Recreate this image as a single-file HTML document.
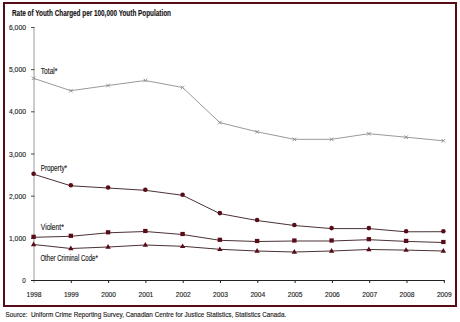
<!DOCTYPE html>
<html><head><meta charset="utf-8"><style>
html,body{margin:0;padding:0;background:#fff;width:460px;height:322px;overflow:hidden}
svg{display:block}
text{font-family:"Liberation Sans",sans-serif;fill:#1a1a1a;stroke:#1a1a1a;stroke-width:0.14px}
.ax{font-size:8px}
.lb{font-size:8.4px}
.tt{font-size:8.6px;font-weight:bold;fill:#111}
.src{font-size:7px}
</style></head><body>
<svg width="460" height="322" viewBox="0 0 460 322">
<line x1="34" y1="27.5" x2="34" y2="283" stroke="#9a9a9a" stroke-width="1"/>
<line x1="31" y1="280.50" x2="34.5" y2="280.50" stroke="#4a4a4a" stroke-width="1"/>
<line x1="31" y1="238.33" x2="34.5" y2="238.33" stroke="#4a4a4a" stroke-width="1"/>
<line x1="31" y1="196.16" x2="34.5" y2="196.16" stroke="#4a4a4a" stroke-width="1"/>
<line x1="31" y1="153.99" x2="34.5" y2="153.99" stroke="#4a4a4a" stroke-width="1"/>
<line x1="31" y1="111.82" x2="34.5" y2="111.82" stroke="#4a4a4a" stroke-width="1"/>
<line x1="31" y1="69.65" x2="34.5" y2="69.65" stroke="#4a4a4a" stroke-width="1"/>
<line x1="31" y1="27.48" x2="34.5" y2="27.48" stroke="#4a4a4a" stroke-width="1"/>
<text transform="translate(25.9 283.10) scale(0.8 1)" text-anchor="end" class="ax">0</text>
<text x="26.0" y="240.93" text-anchor="end" class="ax" textLength="17.1" lengthAdjust="spacingAndGlyphs">1,000</text>
<text x="26.0" y="198.76" text-anchor="end" class="ax" textLength="17.1" lengthAdjust="spacingAndGlyphs">2,000</text>
<text x="26.0" y="156.59" text-anchor="end" class="ax" textLength="17.1" lengthAdjust="spacingAndGlyphs">3,000</text>
<text x="26.0" y="114.42" text-anchor="end" class="ax" textLength="17.1" lengthAdjust="spacingAndGlyphs">4,000</text>
<text x="26.0" y="72.25" text-anchor="end" class="ax" textLength="17.1" lengthAdjust="spacingAndGlyphs">5,000</text>
<text x="26.0" y="30.08" text-anchor="end" class="ax" textLength="17.1" lengthAdjust="spacingAndGlyphs">6,000</text>
<line x1="31" y1="280.5" x2="444.5" y2="280.5" stroke="#222" stroke-width="1"/>
<text x="26.60" y="297.2" class="ax" textLength="14.8" lengthAdjust="spacingAndGlyphs">1998</text>
<line x1="71.3" y1="280" x2="71.3" y2="283" stroke="#222" stroke-width="1"/>
<text x="63.90" y="297.2" class="ax" textLength="14.8" lengthAdjust="spacingAndGlyphs">1999</text>
<line x1="108.6" y1="280" x2="108.6" y2="283" stroke="#222" stroke-width="1"/>
<text x="101.20" y="297.2" class="ax" textLength="14.8" lengthAdjust="spacingAndGlyphs">2000</text>
<line x1="145.9" y1="280" x2="145.9" y2="283" stroke="#222" stroke-width="1"/>
<text x="138.50" y="297.2" class="ax" textLength="14.8" lengthAdjust="spacingAndGlyphs">2001</text>
<line x1="183.2" y1="280" x2="183.2" y2="283" stroke="#222" stroke-width="1"/>
<text x="175.80" y="297.2" class="ax" textLength="14.8" lengthAdjust="spacingAndGlyphs">2002</text>
<line x1="220.5" y1="280" x2="220.5" y2="283" stroke="#222" stroke-width="1"/>
<text x="213.10" y="297.2" class="ax" textLength="14.8" lengthAdjust="spacingAndGlyphs">2003</text>
<line x1="257.8" y1="280" x2="257.8" y2="283" stroke="#222" stroke-width="1"/>
<text x="250.40" y="297.2" class="ax" textLength="14.8" lengthAdjust="spacingAndGlyphs">2004</text>
<line x1="295.1" y1="280" x2="295.1" y2="283" stroke="#222" stroke-width="1"/>
<text x="287.70" y="297.2" class="ax" textLength="14.8" lengthAdjust="spacingAndGlyphs">2005</text>
<line x1="332.4" y1="280" x2="332.4" y2="283" stroke="#222" stroke-width="1"/>
<text x="325.00" y="297.2" class="ax" textLength="14.8" lengthAdjust="spacingAndGlyphs">2006</text>
<line x1="369.7" y1="280" x2="369.7" y2="283" stroke="#222" stroke-width="1"/>
<text x="362.30" y="297.2" class="ax" textLength="14.8" lengthAdjust="spacingAndGlyphs">2007</text>
<line x1="407.0" y1="280" x2="407.0" y2="283" stroke="#222" stroke-width="1"/>
<text x="399.60" y="297.2" class="ax" textLength="14.8" lengthAdjust="spacingAndGlyphs">2008</text>
<line x1="444.3" y1="280" x2="444.3" y2="283" stroke="#222" stroke-width="1"/>
<text x="436.90" y="297.2" class="ax" textLength="14.8" lengthAdjust="spacingAndGlyphs">2009</text>
<path d="M33.60 78.30 L70.85 90.70 L108.10 85.50 L145.35 80.50 L182.60 87.50 L219.85 122.60 L257.10 131.80 L294.35 139.30 L331.60 139.30 L368.85 133.70 L406.10 137.20 L443.35 140.80" fill="none" stroke="#9a9a9a" stroke-width="1"/>
<path d="M31.80 76.50 L35.40 80.10 M31.80 80.10 L35.40 76.50" stroke="#8a8a8a" stroke-width="0.9"/>
<path d="M69.05 88.90 L72.65 92.50 M69.05 92.50 L72.65 88.90" stroke="#8a8a8a" stroke-width="0.9"/>
<path d="M106.30 83.70 L109.90 87.30 M106.30 87.30 L109.90 83.70" stroke="#8a8a8a" stroke-width="0.9"/>
<path d="M143.55 78.70 L147.15 82.30 M143.55 82.30 L147.15 78.70" stroke="#8a8a8a" stroke-width="0.9"/>
<path d="M180.80 85.70 L184.40 89.30 M180.80 89.30 L184.40 85.70" stroke="#8a8a8a" stroke-width="0.9"/>
<path d="M218.05 120.80 L221.65 124.40 M218.05 124.40 L221.65 120.80" stroke="#8a8a8a" stroke-width="0.9"/>
<path d="M255.30 130.00 L258.90 133.60 M255.30 133.60 L258.90 130.00" stroke="#8a8a8a" stroke-width="0.9"/>
<path d="M292.55 137.50 L296.15 141.10 M292.55 141.10 L296.15 137.50" stroke="#8a8a8a" stroke-width="0.9"/>
<path d="M329.80 137.50 L333.40 141.10 M329.80 141.10 L333.40 137.50" stroke="#8a8a8a" stroke-width="0.9"/>
<path d="M367.05 131.90 L370.65 135.50 M367.05 135.50 L370.65 131.90" stroke="#8a8a8a" stroke-width="0.9"/>
<path d="M404.30 135.40 L407.90 139.00 M404.30 139.00 L407.90 135.40" stroke="#8a8a8a" stroke-width="0.9"/>
<path d="M441.55 139.00 L445.15 142.60 M441.55 142.60 L445.15 139.00" stroke="#8a8a8a" stroke-width="0.9"/>
<path d="M33.60 174.20 L70.85 185.80 L108.10 188.00 L145.35 190.30 L182.60 195.30 L219.85 213.60 L257.10 220.50 L294.35 225.50 L331.60 228.60 L368.85 228.60 L406.10 231.80 L443.35 231.70" fill="none" stroke="#2a0c10" stroke-width="0.85"/>
<circle cx="33.60" cy="173.70" r="2.3" fill="#580c17"/>
<circle cx="70.85" cy="185.30" r="2.3" fill="#580c17"/>
<circle cx="108.10" cy="187.50" r="2.3" fill="#580c17"/>
<circle cx="145.35" cy="189.80" r="2.3" fill="#580c17"/>
<circle cx="182.60" cy="194.80" r="2.3" fill="#580c17"/>
<circle cx="219.85" cy="213.10" r="2.3" fill="#580c17"/>
<circle cx="257.10" cy="220.00" r="2.3" fill="#580c17"/>
<circle cx="294.35" cy="225.00" r="2.3" fill="#580c17"/>
<circle cx="331.60" cy="228.10" r="2.3" fill="#580c17"/>
<circle cx="368.85" cy="228.10" r="2.3" fill="#580c17"/>
<circle cx="406.10" cy="231.30" r="2.3" fill="#580c17"/>
<circle cx="443.35" cy="231.20" r="2.3" fill="#580c17"/>
<path d="M33.60 237.30 L70.85 236.30 L108.10 232.80 L145.35 231.50 L182.60 234.50 L219.85 240.30 L257.10 241.50 L294.35 241.00 L331.60 241.00 L368.85 239.70 L406.10 241.40 L443.35 242.50" fill="none" stroke="#2a0c10" stroke-width="0.85"/>
<rect x="31.40" y="234.70" width="4.4" height="4.2" fill="#580c17"/>
<rect x="68.65" y="233.70" width="4.4" height="4.2" fill="#580c17"/>
<rect x="105.90" y="230.20" width="4.4" height="4.2" fill="#580c17"/>
<rect x="143.15" y="228.90" width="4.4" height="4.2" fill="#580c17"/>
<rect x="180.40" y="231.90" width="4.4" height="4.2" fill="#580c17"/>
<rect x="217.65" y="237.70" width="4.4" height="4.2" fill="#580c17"/>
<rect x="254.90" y="238.90" width="4.4" height="4.2" fill="#580c17"/>
<rect x="292.15" y="238.40" width="4.4" height="4.2" fill="#580c17"/>
<rect x="329.40" y="238.40" width="4.4" height="4.2" fill="#580c17"/>
<rect x="366.65" y="237.10" width="4.4" height="4.2" fill="#580c17"/>
<rect x="403.90" y="238.80" width="4.4" height="4.2" fill="#580c17"/>
<rect x="441.15" y="239.90" width="4.4" height="4.2" fill="#580c17"/>
<path d="M33.60 244.50 L70.85 248.50 L108.10 247.00 L145.35 245.00 L182.60 246.30 L219.85 249.30 L257.10 251.00 L294.35 252.00 L331.60 251.00 L368.85 249.50 L406.10 250.10 L443.35 251.00" fill="none" stroke="#2a0c10" stroke-width="0.85"/>
<path d="M33.60 241.60 L36.30 246.20 L30.90 246.20Z" fill="#580c17"/>
<path d="M70.85 245.60 L73.55 250.20 L68.15 250.20Z" fill="#580c17"/>
<path d="M108.10 244.10 L110.80 248.70 L105.40 248.70Z" fill="#580c17"/>
<path d="M145.35 242.10 L148.05 246.70 L142.65 246.70Z" fill="#580c17"/>
<path d="M182.60 243.40 L185.30 248.00 L179.90 248.00Z" fill="#580c17"/>
<path d="M219.85 246.40 L222.55 251.00 L217.15 251.00Z" fill="#580c17"/>
<path d="M257.10 248.10 L259.80 252.70 L254.40 252.70Z" fill="#580c17"/>
<path d="M294.35 249.10 L297.05 253.70 L291.65 253.70Z" fill="#580c17"/>
<path d="M331.60 248.10 L334.30 252.70 L328.90 252.70Z" fill="#580c17"/>
<path d="M368.85 246.60 L371.55 251.20 L366.15 251.20Z" fill="#580c17"/>
<path d="M406.10 247.20 L408.80 251.80 L403.40 251.80Z" fill="#580c17"/>
<path d="M443.35 248.10 L446.05 252.70 L440.65 252.70Z" fill="#580c17"/>
<text x="40.8" y="73.9" class="lb" textLength="16.6" lengthAdjust="spacingAndGlyphs">Total*</text>
<text x="40.7" y="170.9" class="lb" textLength="26.4" lengthAdjust="spacingAndGlyphs">Property*</text>
<text x="40.8" y="229.9" class="lb" textLength="23.0" lengthAdjust="spacingAndGlyphs">Violent*</text>
<text x="40.4" y="261.1" class="lb" textLength="57.4" lengthAdjust="spacingAndGlyphs">Other Criminal Code*</text>
<text x="12" y="15.8" class="tt" textLength="159" lengthAdjust="spacingAndGlyphs">Rate of Youth Charged per 100,000 Youth Population</text>
<rect x="4" y="3" width="452" height="303" fill="none" stroke="#550c16" stroke-width="2"/>
<text x="5.6" y="316.8" class="src" textLength="280.6" lengthAdjust="spacingAndGlyphs">Source:&#160; Uniform Crime Reporting Survey, Canadian Centre for Justice Statistics, Statistics Canada.</text>
</svg>
</body></html>
